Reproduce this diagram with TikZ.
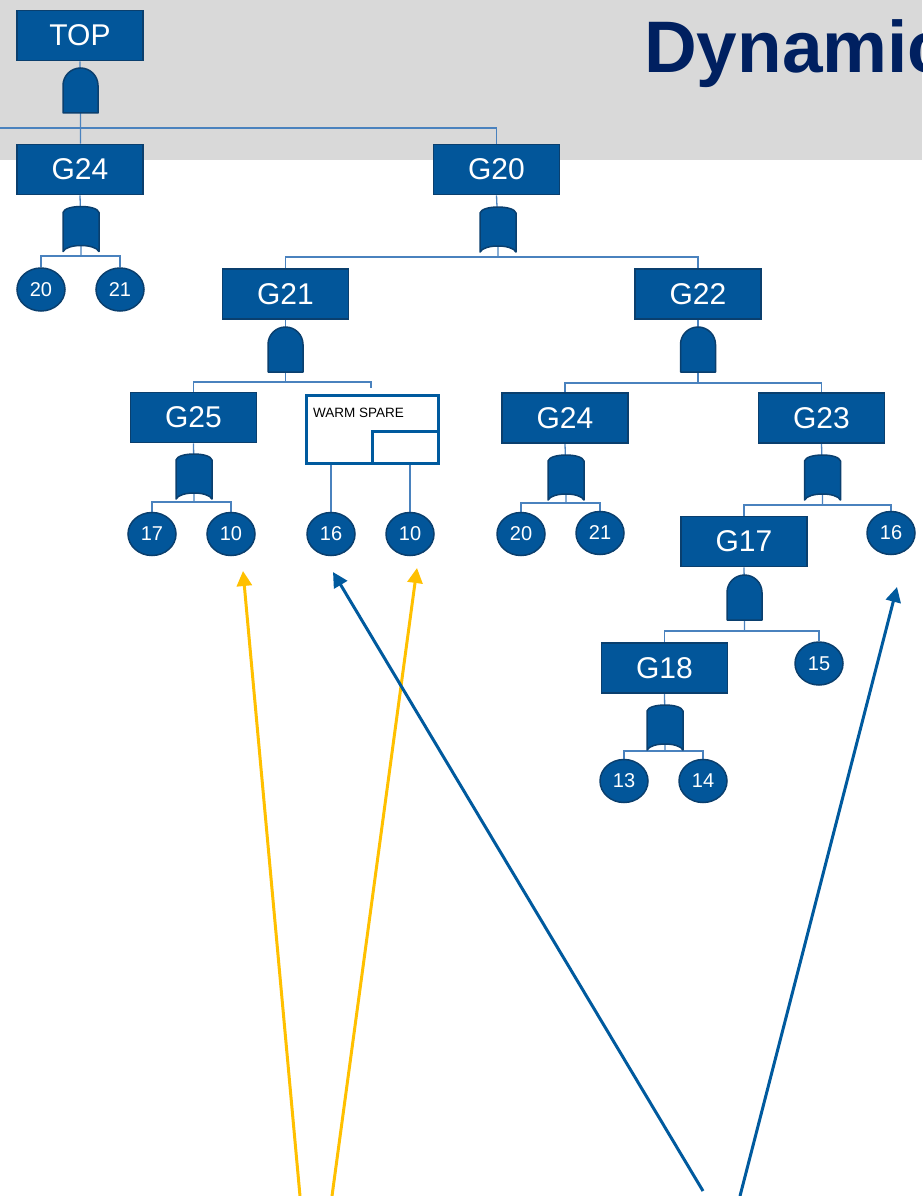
\documentclass[tikz,border=0pt]{standalone}
\usepackage{fontspec}
\setmainfont{Liberation Sans}
\usetikzlibrary{shapes.geometric,arrows.meta}

\definecolor{band}{HTML}{D9D9D9}
\definecolor{titleblue}{HTML}{002060}
\definecolor{boxblue}{HTML}{02569A}
\definecolor{boxedge}{HTML}{0A3F6E}
\definecolor{wireblue}{HTML}{4A82BE}
\definecolor{amber}{HTML}{FFC000}
\definecolor{arrowblue}{HTML}{005A9E}

\pgfdeclarelayer{bandlayer}
\pgfdeclarelayer{wirelayer}
\pgfsetlayers{bandlayer,wirelayer,main}

\tikzset{
  event/.style={rectangle, fill=boxblue, draw=boxedge, line width=1.8pt,
    minimum width=126pt, minimum height=50pt, inner sep=0pt, text=white,
    font=\fontsize{30}{30}\selectfont},
  basic/.style={ellipse, fill=boxblue, draw=boxedge, line width=1.5pt,
    minimum width=48pt, minimum height=43pt, inner sep=0pt, text=white,
    font=\fontsize{20}{20}\selectfont},
  gatenode/.style={rectangle, minimum width=#1, minimum height=45pt,
    inner sep=0pt, outer sep=0pt},
  gatenode/.default=36pt,
  gatebody/.style={fill=boxblue, draw=boxedge, line width=1.5pt, line join=round},
  wire/.style={draw=wireblue, line width=1.3pt},
  pointer/.style={line width=3pt, -{Triangle[length=15pt,width=15pt]}},
}

% AND gate: flat base, round top
\newcommand\andgate[1]{%
  \path[gatebody] (#1.south west) -- (#1.south east)
    -- ([yshift=-17.5pt]#1.north east)
    arc[start angle=0, end angle=180, radius=17.5pt] -- cycle;}
% OR-type gate: arched top, hollow base
\newcommand\orgate[1]{%
  \path[gatebody] ([yshift=-6pt]#1.north west)
    .. controls ([shift={(2pt,2pt)}]#1.north west) and ([shift={(-2pt,2pt)}]#1.north east)
    .. ([yshift=-6pt]#1.north east) -- (#1.south east)
    .. controls ([shift={(-4pt,8pt)}]#1.south east) and ([shift={(4pt,8pt)}]#1.south west)
    .. (#1.south west) -- cycle;}

\begin{document}
\begin{tikzpicture}[x=1pt, y=1pt]
\useasboundingbox (0,0) rectangle (922,-1196);
\clip (0,0) rectangle (922,-1196);

\begin{pgfonlayer}{bandlayer}
  \fill[band] (0,0) rectangle (922,-160);
\end{pgfonlayer}

\node[anchor=base west, inner sep=0pt, text=titleblue,
  font=\fontsize{73}{73}\selectfont\bfseries] (title) at (644,-73) {Dynamic};

% top event and its left branch
\node[event] (top) at (80,-35.5) {TOP};
\node[gatenode=35pt] (gtop) at (80.5,-90.5) {};
\node[event] (g24a) at (80,-169.5) {G24};
\node[gatenode] (g24ag) at (81,-229) {};
\node[basic] (e20a) at (41,-289.5) {20};
\node[basic] (e21a) at (120,-289.5) {21};

% G20 subtree
\node[event] (g20) at (496.5,-169.5) {G20};
\node[gatenode] (g20g) at (498,-229.5) {};
\node[event] (g21) at (285.5,-294) {G21};
\node[event] (g22) at (698,-294) {G22};

\node[gatenode=35pt] (g21g) at (285.5,-349.5) {};
\node[event] (g25) at (193.5,-417.5) {G25};
\node[gatenode] (g25g) at (194,-476.5) {};
\node[basic] (e17) at (152,-534) {17};
\node[basic] (e10a) at (231,-534) {10};

% warm spare gate
\node[rectangle, draw=arrowblue, line width=3pt, fill=white, minimum width=132pt,
  minimum height=68pt, inner sep=0pt] (ws) at (372,-429) {};
\node[rectangle, draw=arrowblue, line width=3pt, fill=white, minimum width=66pt,
  minimum height=32pt, inner sep=0pt] (wsslot) at (405,-447) {};
\node[anchor=base west, inner sep=0pt, font=\fontsize{13.5}{13.5}\selectfont]
  (wslabel) at (313,-417) {WARM SPARE};
\node[basic] (e16a) at (331,-534) {16};
\node[basic] (e10b) at (410,-534) {10};

\node[gatenode=35pt] (g22g) at (698,-349.5) {};
\node[event] (g24b) at (565,-418) {G24};
\node[event] (g23) at (821.5,-418) {G23};
\node[gatenode] (g24bg) at (566,-477.5) {};
\node[basic] (e20b) at (521,-534) {20};
\node[basic] (e21b) at (600,-533) {21};
\node[gatenode] (g23g) at (822.5,-477.5) {};
\node[event] (g17) at (744,-541.5) {G17};
\node[basic] (e16b) at (891,-533) {16};
\node[gatenode=35pt] (g17g) at (744.5,-597.5) {};
\node[event] (g18) at (664.5,-668) {G18};
\node[basic] (e15) at (819,-663.5) {15};
\node[gatenode] (g18g) at (665,-727.5) {};
\node[basic] (e13) at (624,-781) {13};
\node[basic] (e14) at (703,-781) {14};

% gate bodies
\andgate{gtop}
\orgate{g24ag}
\orgate{g20g}
\andgate{g21g}
\orgate{g25g}
\andgate{g22g}
\orgate{g24bg}
\orgate{g23g}
\andgate{g17g}
\orgate{g18g}

% bus junctions and free ends
\coordinate (edgeL) at (0,-128);
\coordinate (b1) at (81,-256);
\coordinate (b2) at (498,-257);
\coordinate (b3) at (285.5,-382);
\coordinate (wsin) at (371,-388);
\coordinate (b4) at (194,-502);
\coordinate (b5) at (698,-383);
\coordinate (b6) at (566,-503);
\coordinate (b7) at (822.5,-505);
\coordinate (b8) at (744.5,-631);
\coordinate (b9) at (665,-751);

\begin{pgfonlayer}{wirelayer}
  \draw[wire] (top.south) -- (gtop.center) -- (gtop.center |- g24a.north);
  \draw[wire] (edgeL) -| (g20.north);

  \draw[wire] (g24a.south) -- (g24ag.center) -- (b1);
  \draw[wire] (b1) -| (e20a.north);
  \draw[wire] (b1) -| (e21a.north);

  \draw[wire] (g20.south) -- (g20g.center) -- (b2);
  \draw[wire] (b2) -| (g21.north);
  \draw[wire] (b2) -| (g22.north);

  \draw[wire] (g21.south) -- (g21g.center) -- (b3);
  \draw[wire] (b3) -| (g25.north);
  \draw[wire] (b3) -| (wsin);

  \draw[wire] (g25.south) -- (g25g.center) -- (b4);
  \draw[wire] (b4) -| (e17.north);
  \draw[wire] (b4) -| (e10a.north);

  \draw[wire] (e16a.north |- ws.center) -- (e16a.north);
  \draw[wire] (e10b.north |- ws.center) -- (e10b.north);

  \draw[wire] (g22.south) -- (g22g.center) -- (b5);
  \draw[wire] (b5) -| (g24b.north);
  \draw[wire] (b5) -| (g23.north);

  \draw[wire] (g24b.south) -- (g24bg.center) -- (b6);
  \draw[wire] (b6) -| (e20b.north);
  \draw[wire] (b6) -| (e21b.north);

  \draw[wire] (g23.south) -- (g23g.center) -- (b7);
  \draw[wire] (b7) -| (g17.north);
  \draw[wire] (b7) -| (e16b.north);

  \draw[wire] (g17.south) -- (g17g.center) -- (b8);
  \draw[wire] (b8) -| (g18.north);
  \draw[wire] (b8) -| (e15.north);

  \draw[wire] (g18.south) -- (g18g.center) -- (b9);
  \draw[wire] (b9) -| (e13.north);
  \draw[wire] (b9) -| (e14.north);
\end{pgfonlayer}

% pointers from below
\coordinate (y1foot) at (300,-1196);
\coordinate (y1tip) at (243,-571);
\coordinate (y2foot) at (332,-1196);
\coordinate (y2tip) at (417,-568);
\coordinate (u1foot) at (703,-1191);
\coordinate (u1tip) at (333,-572);
\coordinate (u2foot) at (740,-1196);
\coordinate (u2tip) at (897,-587);
\draw[pointer, amber] (y1foot) -- (y1tip);
\draw[pointer, amber] (y2foot) -- (y2tip);
\draw[pointer, arrowblue] (u1foot) -- (u1tip);
\draw[pointer, arrowblue] (u2foot) -- (u2tip);
\end{tikzpicture}
\end{document}
